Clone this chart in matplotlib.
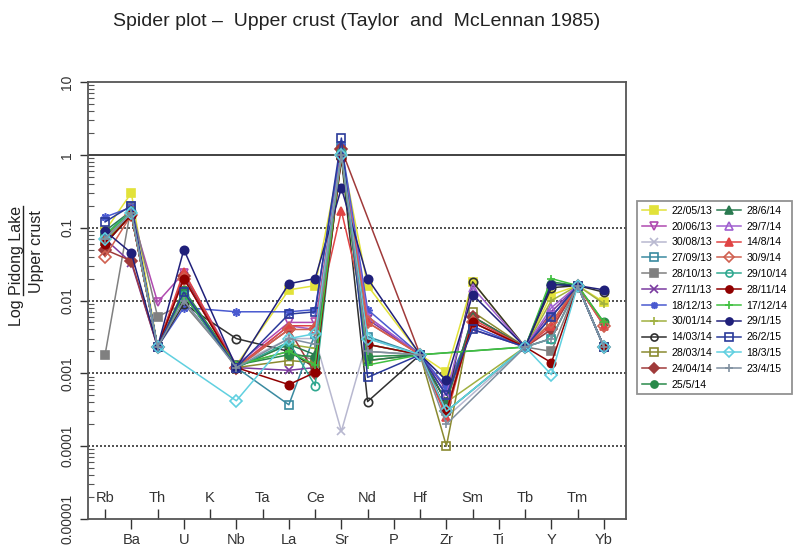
import numpy as np
import matplotlib
matplotlib.use("Agg")
import matplotlib.pyplot as plt
from matplotlib.ticker import FixedLocator, FixedFormatter, NullFormatter
from matplotlib.lines import Line2D

plt.rcParams['font.family'] = ['Liberation Sans', 'DejaVu Sans']

elements = ["Rb", "Ba", "Th", "U", "K", "Nb", "Ta", "La", "Ce", "Sr",
            "Nd", "P", "Hf", "Zr", "Sm", "Ti", "Tb", "Y", "Tm", "Yb"]
N = np.nan

dates = ["22/05/13", "20/06/13", "30/08/13", "27/09/13", "28/10/13", "27/11/13",
         "18/12/13", "30/01/14", "14/03/14", "28/03/14", "24/04/14", "25/5/14",
         "28/6/14", "29/7/14", "14/8/14", "30/9/14", "29/10/14", "28/11/14",
         "17/12/14", "29/1/15", "26/2/15", "18/3/15", "23/4/15"]

#            Rb      Ba     Th      U     K  Nb       Ta  La       Ce       Sr       Nd       P  Hf      Zr       Sm      Ti  Tb      Y        Tm     Yb
s_220513 = [0.09,   0.30,  0.0023, 0.012, N, 0.0013,  N, 0.014,   0.016,   1.1,     0.016,   N, 0.0018, 0.00103, 0.018,  N, 0.0023, 0.012,   0.016, 0.0095]
s_200613 = [0.07,   0.16,  0.0095, 0.024, N, 0.0013,  N, 0.005,   0.005,   1.0,     0.006,   N, 0.0018, 0.0004,  0.006,  N, 0.0023, 0.006,   0.016, 0.0045]
s_300813 = [0.06,   0.15,  0.0023, 0.010, N, 0.0013,  N, 0.003,   0.003,   0.00016, 0.003,   N, 0.0018, 0.00025, N,      N, 0.0023, 0.004,   0.016, 0.0023]
s_270913 = [0.08,   0.17,  0.0023, 0.012, N, 0.0012,  N, 0.00037, 0.0035,  1.3,     0.0032,  N, 0.0018, 0.0005,  0.005,  N, 0.0023, 0.003,   0.016, 0.0023]
s_281013 = [0.0018, 0.20,  0.006,  0.009, N, 0.0013,  N, 0.002,   0.0015,  1.0,     0.002,   N, 0.0018, 0.0003,  N,      N, 0.0023, 0.002,   0.016, 0.0023]
s_271113 = [0.07,   0.033, 0.0023, 0.022, N, 0.0012,  N, 0.0011,  0.0012,  1.2,     0.0055,  N, 0.0018, 0.0006,  0.004,  N, 0.0023, 0.007,   0.016, 0.0023]
s_181213 = [0.14,   0.19,  0.0023, 0.008, N, 0.007,   N, 0.007,   0.0075,  1.4,     0.0075,  N, 0.0018, 0.00065, 0.0044, N, 0.0023, 0.006,   0.016, 0.0023]
s_300114 = [0.065,  0.15,  0.0023, 0.013, N, 0.0012,  N, 0.0025,  0.0022,  0.9,     0.0025,  N, 0.0018, 0.0004,  N,      N, 0.0023, 0.010,   0.016, 0.009]
s_140314 = [0.06,   0.15,  0.0023, 0.009, N, 0.003,   N, 0.002,   0.0012,  0.9,     0.00041, N, 0.0018, 0.0004,  0.018,  N, 0.0023, 0.015,   0.016, 0.013]
s_280314 = [0.065,  0.17,  0.0023, 0.012, N, 0.0012,  N, 0.0015,  0.0014,  1.0,     0.0015,  N, 0.0018, 0.0001,  0.007,  N, 0.0023, 0.005,   0.016, 0.0023]
s_240414 = [0.05,   0.035, 0.0023, 0.022, N, 0.0012,  N, 0.004,   0.001,   1.2,     N,       N, 0.0018, 0.0003,  0.006,  N, 0.0023, 0.004,   0.016, 0.0023]
s_25514  = [0.075,  0.16,  0.0023, 0.014, N, 0.0013,  N, 0.0018,  0.0017,  0.95,    0.0017,  N, 0.0018, N,       N,      N, 0.0023, 0.017,   0.016, 0.005]
s_28614  = [0.09,   0.17,  0.0023, 0.012, N, 0.0012,  N, 0.0025,  0.0018,  1.0,     0.0015,  N, 0.0018, 0.0004,  0.006,  N, 0.0023, 0.018,   0.016, 0.0023]
s_29714  = [0.08,   0.16,  0.0023, 0.020, N, 0.0012,  N, 0.0045,  0.004,   1.1,     0.006,   N, 0.0018, 0.0005,  0.015,  N, 0.0023, 0.008,   0.016, 0.0023]
s_14814  = [0.07,   0.18,  0.0023, 0.025, N, 0.0012,  N, 0.0045,  0.0045,  0.17,    0.005,   N, 0.0018, 0.00025, 0.0055, N, 0.0023, 0.0045,  0.016, 0.0045]
s_30914  = [0.04,   0.15,  0.0023, 0.020, N, 0.0012,  N, 0.004,   0.004,   1.0,     0.005,   N, 0.0018, 0.0003,  0.005,  N, 0.0023, 0.005,   0.016, 0.0045]
s_291014 = [0.08,   0.17,  0.0023, 0.012, N, 0.0012,  N, 0.0027,  0.00068, 1.1,     0.0025,  N, 0.0018, 0.0003,  N,      N, 0.0023, 0.003,   0.016, 0.0023]
s_281114 = [0.06,   0.15,  0.0023, 0.020, N, 0.0012,  N, 0.0007,  0.00103, 0.9,     0.0025,  N, 0.0018, 0.0003,  0.005,  N, 0.0023, 0.0014,  0.016, 0.0023]
s_171214 = [0.08,   0.16,  0.0023, 0.012, N, 0.0013,  N, 0.002,   0.0013,  1.0,     0.0013,  N, 0.0018, N,       N,      N, 0.0023, 0.020,   0.016, 0.005]
s_29115  = [0.09,   0.045, 0.0023, 0.050, N, 0.0012,  N, 0.017,   0.020,   0.35,    0.020,   N, 0.0018, 0.0008,  0.012,  N, 0.0023, 0.0165,  0.016, 0.014]
s_26215  = [0.12,   0.20,  0.0023, 0.013, N, 0.0012,  N, 0.0065,  0.007,   1.7,     0.00088, N, 0.0018, 0.0005,  0.004,  N, 0.0023, 0.006,   0.016, 0.0023]
s_18315  = [0.07,   0.16,  0.0023, N,     N, 0.00042, N, 0.003,   0.0035,  1.0,     0.003,   N, 0.0018, 0.0003,  N,      N, 0.0023, 0.00096, 0.016, 0.0023]
s_23415  = [0.07,   0.16,  0.0023, 0.010, N, 0.0012,  N, 0.003,   0.0025,  1.0,     0.002,   N, 0.0018, 0.0002,  N,      N, 0.0023, 0.003,   0.016, 0.0023]

series = [s_220513, s_200613, s_300813, s_270913, s_281013, s_271113, s_181213,
          s_300114, s_140314, s_280314, s_240414, s_25514, s_28614, s_29714,
          s_14814, s_30914, s_291014, s_281114, s_171214, s_29115, s_26215,
          s_18315, s_23415]

colors = ["#e2e23a", "#b04ab0", "#b8b8d0", "#3a8aa0", "#808080", "#7a3aa0",
          "#4a5ad0", "#a0b040", "#303030", "#8a8a30", "#a03a3a", "#2a8a4a",
          "#2a7a50", "#a060d0", "#e04444", "#d06050", "#30a890", "#900000",
          "#40c040", "#20207a", "#2a3a9a", "#60d0e0", "#8090a0"]
markers = ["s", "v", "x", "s", "s", "x", (8, 2, 0), "+", "o", "s", "D", "o",
           "^", "^", "^", "D", "o", "o", "+", "o", "s", "D", "+"]
filled = [True, False, True, False, True, True, True, True, False, False, True, True,
          True, False, True, False, False, True, True, True, False, False, True]

fig = plt.figure(figsize=(8.08, 5.46), dpi=100)
W, H = 808, 546
ax = fig.add_axes([88 / W, 1 - 519 / H, (626 - 88) / W, (519 - 82) / H])

xpos = np.arange(1, len(elements) + 1)
handles = []
for vals, c, m, f, lab in zip(series, colors, markers, filled, dates):
    v = np.array(vals, dtype=float)
    ok = np.isfinite(v)
    ln, = ax.plot(xpos[ok], v[ok], color=c, lw=1.1, marker=m, ms=6,
                  mfc=(c if f else 'none'), mec=c, mew=1.2, label=lab)
    handles.append(ln)

ax.set_yscale('log')
ax.set_ylim(1e-5, 10)
ax.set_xlim(0.35, 20.84)

for lvl in [0.1, 0.01, 0.001, 0.0001]:
    ax.axhline(lvl, color='#333333', lw=1.2, ls=(0, (1.2, 1.2)), zorder=0)
ax.axhline(1, color='#333333', lw=1.3, zorder=0)

# y ticks
ytv = [1e-5, 1e-4, 1e-3, 1e-2, 1e-1, 1, 10]
ytl = ["0.00001", "0.0001", "0.001", "0.01", "0.1", "1", "10"]
ax.yaxis.set_major_locator(FixedLocator(ytv))
ax.yaxis.set_major_formatter(FixedFormatter(ytl))
minors = [k * 10.0 ** e for e in range(-5, 1) for k in range(2, 10)]
ax.yaxis.set_minor_locator(FixedLocator(minors))
ax.yaxis.set_minor_formatter(NullFormatter())
ax.tick_params(axis='y', which='major', direction='out', length=6, width=1,
               labelsize=10, labelrotation=90, pad=4, colors='#333333')
for t in ax.get_yticklabels():
    t.set_va('center')
ax.tick_params(axis='y', which='minor', direction='in', length=4, width=0.8, colors='#555555')

# x ticks: even-indexed below, odd-indexed above inside
ax.xaxis.set_major_locator(FixedLocator(xpos[1::2]))
ax.xaxis.set_major_formatter(FixedFormatter(elements[1::2]))
ax.xaxis.set_minor_locator(FixedLocator(xpos[0::2]))
ax.xaxis.set_minor_formatter(FixedFormatter(elements[0::2]))
ax.tick_params(axis='x', which='major', direction='out', length=7, width=1,
               labelsize=10.5, pad=3, colors='#333333')
ax.tick_params(axis='x', which='minor', direction='in', length=7, width=1,
               labelsize=10.5, pad=-10, colors='#333333')
for t in ax.xaxis.get_ticklabels(minor=True):
    t.set_va('bottom')

for sp in ax.spines.values():
    sp.set_color('#555555')
    sp.set_linewidth(1.3)

fig.text(357 / W, 1 - 22 / H, "Spider plot \u2013  Upper crust (Taylor  and  McLennan 1985)",
         ha='center', va='center', fontsize=14, color='#222222')

# y label as a fraction
t1 = fig.text(17 / W, 1 - 266 / H, "Log Pidong Lake", rotation=90, ha='center',
              va='center', fontsize=11.5, color='#222222')
t2 = fig.text(37 / W, 1 - 252 / H, "Upper crust", rotation=90, ha='center',
              va='center', fontsize=11.5, color='#222222')
fig.canvas.draw()
r = fig.canvas.get_renderer()
bb = t1.get_window_extent(r)
tmp = fig.text(0, 0, "Log ", fontsize=11.5)
wlog = tmp.get_window_extent(r).width
tmp.remove()
fig.add_artist(Line2D([(bb.x1 - 1.5) / W] * 2, [(bb.y0 + wlog) / H, bb.y1 / H],
                      transform=fig.transFigure, color='#222222', lw=1))

leg = fig.legend(handles=handles, loc='upper left', bbox_to_anchor=(637 / W, 1 - 201 / H),
                 ncol=2, fontsize=7.6, frameon=True, fancybox=False, edgecolor='#777777',
                 handlelength=2.3, handletextpad=0.5, columnspacing=0.4,
                 labelspacing=0.55, borderpad=0.45, borderaxespad=0, markerscale=0.85)
leg.get_frame().set_linewidth(1.3)

fig.savefig("out.png", dpi=100)
